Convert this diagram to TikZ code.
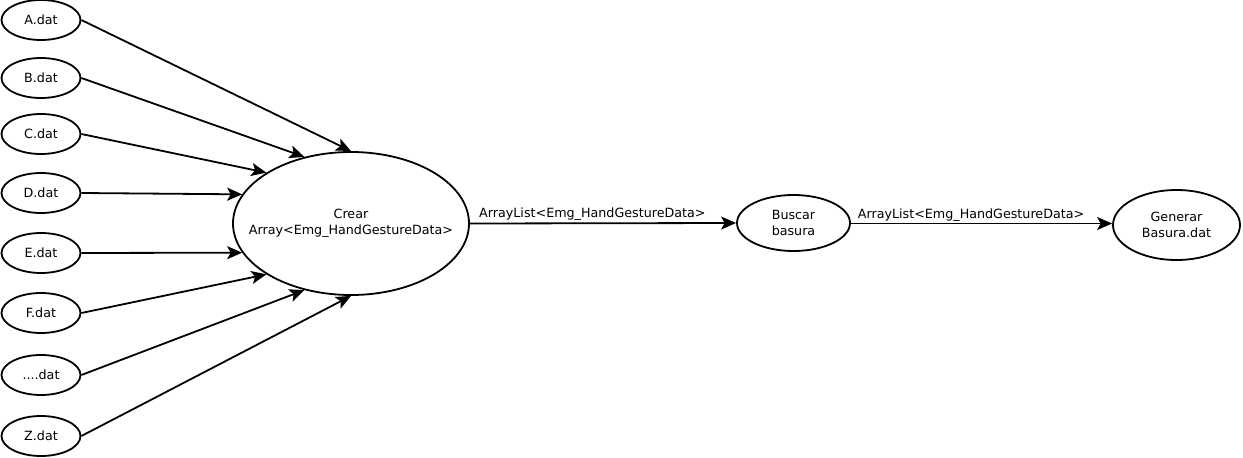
\documentclass[tikz,border=0pt]{standalone}
\usepackage{fontspec}
\setmainfont{DejaVu Sans}
\usetikzlibrary{shapes.geometric,arrows.meta}

\tikzset{
    datafile/.style = {draw, ellipse, line width = 1.8pt, inner sep = 0pt,
        minimum width = 79pt, minimum height = 40pt},
    process/.style = {draw, ellipse, line width = 1.8pt, inner sep = 0pt, align = center},
    flow/.style = {line width = 1.8pt, -{Stealth[length = 15pt, width = 13pt, inset = 3.5pt]}}
}

\begin{document}
\begin{tikzpicture}[x = 1pt, y = -1pt, font = \fontsize{12.7}{16}\selectfont]
        \useasboundingbox (0, 0) rectangle (1243, 458);
        % input files
        \node[datafile] (a) at (41, 20) {A.dat};
        \node[datafile] (b) at (41, 78) {B.dat};
        \node[datafile] (c) at (41, 134) {C.dat};
        \node[datafile] (d) at (41, 193) {D.dat};
        \node[datafile] (e) at (41, 253) {E.dat};
        \node[datafile] (f) at (41, 313) {F.dat};
        \node[datafile] (dots) at (41, 375) {....dat};
        \node[datafile] (z) at (41, 436) {Z.dat};
        % processes
        \node[process, minimum width = 236pt, minimum height = 143pt,
            label = {[align = center]center:Crear\\Array<Emg\_HandGestureData>}] (crear) at (351, 223.5) {};
        \node[process, minimum width = 113pt, minimum height = 56pt] (buscar) at (793.5, 223) {Buscar\\basura};
        \node[process, minimum width = 127pt, minimum height = 70pt] (generar) at (1176.5, 225) {Generar\\Basura.dat};
        % connectors
        \draw[flow] (a.east) -- (crear.90);
        \draw[flow] (b.east) -- (crear.125);
        \draw[flow] (c.east) -- (crear.149);
        \draw[flow] (d.east) -- (crear.165);
        \draw[flow] (e.east) -- (crear.195);
        \draw[flow] (f.east) -- (crear.211);
        \draw[flow] (dots.east) -- (crear.235);
        \draw[flow] (z.east) -- (crear.270);
        \draw[flow] (crear.east) -- node[above, pos = 0.46, inner sep = 1.5pt] {ArrayList<Emg\_HandGestureData>} (buscar.west);
        \draw[flow] (buscar.east |- crear.east) -- node[above, pos = 0.46, inner sep = 1.5pt] {ArrayList<Emg\_HandGestureData>} (generar.west |- crear.east);
    \end{tikzpicture}
\end{document}
